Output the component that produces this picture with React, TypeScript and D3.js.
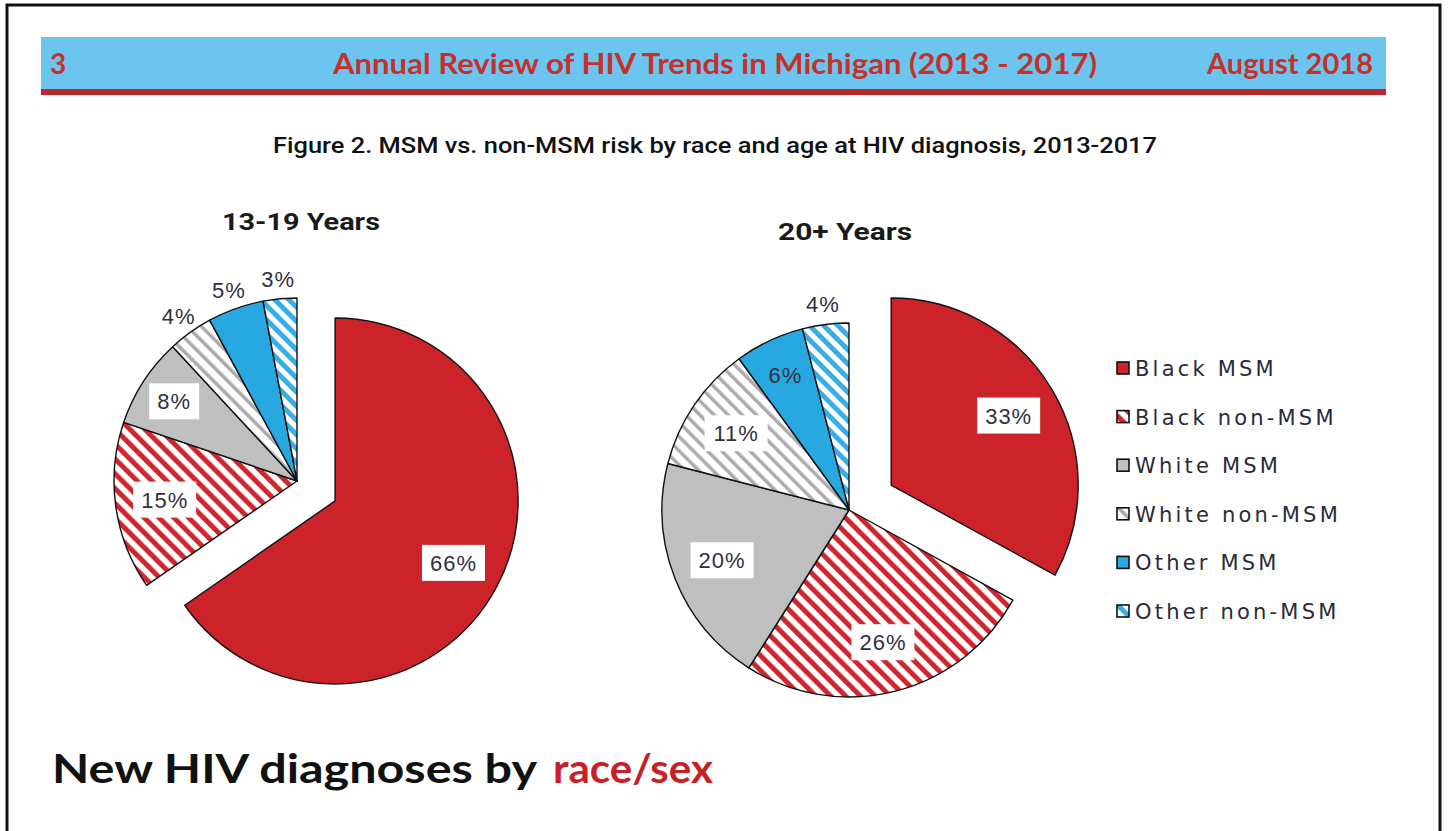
import React from 'react';
import * as d3 from 'd3';

const categories = ['Black MSM', 'Black non-MSM', 'White MSM', 'White non-MSM', 'Other MSM', 'Other non-MSM'];
const teenValues = [66, 15, 8, 4, 5, 3];
const adultValues = [33, 26, 20, 11, 6, 4];
const pieTitles = ['13-19 Years', '20+ Years'];
const headerTexts = ['3', 'Annual Review of HIV Trends in Michigan (2013 - 2017)', 'August 2018'];
const figureTitle = 'Figure 2. MSM vs. non-MSM risk by race and age at HIV diagnosis, 2013-2017';
const footerBlack = 'New HIV diagnoses by';
const footerRed = 'race/sex';

const W = 1449;
const H = 831;

const fills = ['#cc2229', 'url(#hatchRed)', '#bfbfbf', 'url(#hatchGray)', '#28a8e0', 'url(#hatchBlue)'];

const pieLayouts = [
  { values: teenValues, title: pieTitles[0], cx: 297, cy: 481, r: 183, explode: 43, titleX: 301, titleY: 230, titleLen: 158 },
  { values: adultValues, title: pieTitles[1], cx: 849, cy: 510, r: 187, explode: 49, titleX: 845, titleY: 240, titleLen: 134 },
];

const labelColor = '#303042';

function Pie({ layout }: { layout: typeof pieLayouts[0] }) {
  const pie = d3.pie<number>().sort(null).value((d) => d).startAngle(0).endAngle(2 * Math.PI);
  const arcs = pie(layout.values);
  const arc = d3.arc<d3.PieArcDatum<number>>().innerRadius(0).outerRadius(layout.r);
  return (
    <g>
      <text x={layout.titleX} y={layout.titleY} textAnchor="middle" fontFamily="Roboto, 'Liberation Sans', sans-serif" fontWeight={700} fontSize={23} fill="#1a1a1a" textLength={layout.titleLen} lengthAdjust="spacingAndGlyphs">{layout.title}</text>
      {arcs.map((a, i) => {
        const mid = (a.startAngle + a.endAngle) / 2;
        const e = i === 0 ? layout.explode : 0;
        const ox = layout.cx + Math.sin(mid) * e;
        const oy = layout.cy - Math.cos(mid) * e;
        return (
          <path key={i} d={arc(a) || ''} transform={`translate(${ox},${oy})`} fill={fills[i]} stroke="#111" strokeWidth={1.4} strokeLinejoin="round" />
        );
      })}
      {arcs.map((a, i) => {
        const mid = (a.startAngle + a.endAngle) / 2;
        const e = i === 0 ? layout.explode : 0;
        const ox = layout.cx + Math.sin(mid) * e;
        const oy = layout.cy - Math.cos(mid) * e;
        const v = a.data;
        const outside = v < 6;
        const k = outside ? 1.11 : v < 10 ? 0.8 : 0.73;
        const lr = layout.r * k;
        const lx = ox + Math.sin(mid) * lr;
        const ly = oy - Math.cos(mid) * lr;
        const txt = `${v}%`;
        const boxed = !outside && i !== 4;
        const bw = txt.length * 13 + 24;
        const bh = 36;
        return (
          <g key={'l' + i}>
            {boxed && <rect x={lx - bw / 2} y={ly - bh / 2} width={bw} height={bh} fill="#ffffff" />}
            <text x={lx} y={ly + 8} textAnchor="middle" fontFamily="'Liberation Sans', Arial, sans-serif" fontSize={22} letterSpacing={1} fill={labelColor}>{txt}</text>
          </g>
        );
      })}
    </g>
  );
}

export default function App() {
  const legendX = 1117;
  const legendY0 = 368;
  const legendStep = 48.6;
  return (
    <div style={{ position: 'fixed', left: 0, top: 0, width: W, height: H, background: '#fff' }}>
      <svg width={W} height={H} viewBox={`0 0 ${W} ${H}`} style={{ display: 'block' }}>
        <defs>
          <pattern id="hatchRed" patternUnits="userSpaceOnUse" width={10.5} height={10.5} patternTransform="rotate(-45)">
            <rect width={10.5} height={10.5} fill="#ffffff" />
            <rect width={5} height={10.5} fill="#d0262d" />
          </pattern>
          <pattern id="hatchGray" patternUnits="userSpaceOnUse" width={10} height={10} patternTransform="rotate(-45)">
            <rect width={10} height={10} fill="#ffffff" />
            <rect width={3.5} height={10} fill="#ababab" />
          </pattern>
          <pattern id="hatchBlue" patternUnits="userSpaceOnUse" width={10} height={10} patternTransform="rotate(-45)">
            <rect width={10} height={10} fill="#ffffff" />
            <rect width={5} height={10} fill="#38aee2" />
          </pattern>
        </defs>
        <rect x={0} y={0} width={W} height={H} fill="#ffffff" />
        <rect x={7} y={5} width={1433} height={900} fill="none" stroke="#111" strokeWidth={3} />

        {/* header banner */}
        <rect x={41} y={37} width={1345} height={52} fill="#6cc5ee" />
        <rect x={41} y={89} width={1345} height={6} fill="#c0272d" />
        <text x={50} y={74} fontFamily="Lato, 'DejaVu Sans', sans-serif" fontWeight={700} fontSize={28} fill="#c6302b">{headerTexts[0]}</text>
        <text x={333} y={74} fontFamily="Lato, 'DejaVu Sans', sans-serif" fontWeight={700} fontSize={28} fill="#c6302b" textLength={764} lengthAdjust="spacingAndGlyphs">{headerTexts[1]}</text>
        <text x={1207} y={74} fontFamily="Lato, 'DejaVu Sans', sans-serif" fontWeight={700} fontSize={28} fill="#c6302b" textLength={166} lengthAdjust="spacingAndGlyphs">{headerTexts[2]}</text>

        <text x={715} y={153} textAnchor="middle" fontFamily="Roboto, 'Liberation Sans', sans-serif" fontWeight={500} fontSize={22} fill="#111" textLength={884} lengthAdjust="spacingAndGlyphs">{figureTitle}</text>

        {pieLayouts.map((p, i) => (
          <Pie key={i} layout={p} />
        ))}

        {/* legend */}
        {categories.map((c, i) => {
          const y = legendY0 + i * legendStep;
          return (
            <g key={c}>
              <rect x={legendX} y={y - 6} width={12} height={12} fill={fills[i]} stroke="#111" strokeWidth={1.6} />
              <text x={legendX + 18} y={y + 8} fontFamily="'DejaVu Sans', Verdana, sans-serif" fontSize={21} letterSpacing={3.2} fill="#2a2a3a">{c}</text>
            </g>
          );
        })}

        {/* footer */}
        <text x={52} y={783} fontFamily="Lato, 'DejaVu Sans', sans-serif" fontWeight={700} fontSize={40} fill="#111" textLength={485} lengthAdjust="spacingAndGlyphs">{footerBlack}</text>
        <text x={553} y={783} fontFamily="Lato, 'DejaVu Sans', sans-serif" fontWeight={700} fontSize={40} fill="#c82027" textLength={160} lengthAdjust="spacingAndGlyphs">{footerRed}</text>
      </svg>
    </div>
  );
}
